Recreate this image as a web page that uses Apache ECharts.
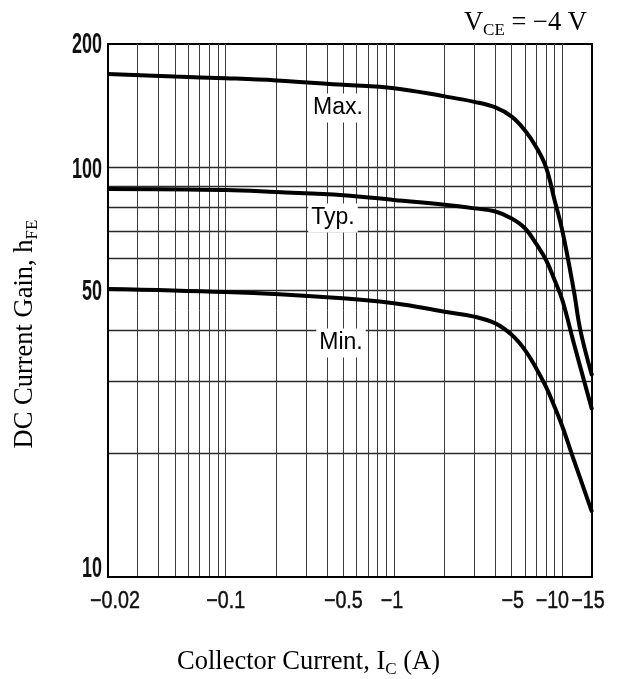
<!DOCTYPE html>
<html><head><meta charset="utf-8">
<script src="https://cdn.jsdelivr.net/npm/echarts@6/dist/echarts.min.js"></script>
<style>html,body{margin:0;padding:0;background:#fff}#c{width:619px;height:679px}</style>
</head><body><div id="c"></div>
<script>
// Collector current |Ic| (A) and DC current gain hFE for each curve
const currentMax = [0.02, 0.05, 0.1, 0.2, 0.5, 1, 2, 3, 4, 5, 6, 7, 8, 9, 10, 11.7, 12.8, 15];
const hfeMax     = [169, 166.5, 165, 163, 159, 156, 149, 144.5, 140, 133, 123, 112, 100, 83, 70, 50, 40, 31];
const currentTyp = [0.02, 0.1, 0.2, 0.5, 1, 2, 3, 4, 5, 6, 7, 8, 9, 10, 11.7, 15];
const hfeTyp     = [88.5, 88, 87, 85.5, 83.2, 81, 79.4, 78, 75, 71, 65, 59.4, 53, 47.4, 37.2, 25.6];
const currentMin = [0.02, 0.1, 0.4, 1, 2, 3, 4, 5, 6, 7, 8, 9, 10, 11.7, 15];
const hfeMin     = [50.5, 49.6, 48.2, 46.6, 44.4, 43.2, 41.6, 39, 35.8, 32.3, 29.1, 26, 23.3, 19.3, 14.4];

const xTickLabels = [0.02, 0.1, 0.5, 1, 5, 10, 15];
const yTickLabels = [10, 50, 100, 200];
const xGridLines = [0.03, 0.04, 0.05, 0.06, 0.07, 0.08, 0.09, 0.1, 0.2, 0.3, 0.4, 0.5, 0.6, 0.7, 0.8, 0.9, 1, 2, 3, 4, 5, 6, 7, 8, 9, 10];
const yGridLines = [20, 30, 40, 50, 60, 70, 80, 90, 100];
const xRange = [0.02, 15];
const yRange = [10, 200];

// label styling nudges (pixels), kept apart from the data
const style = {
  xLabelNudge: [7, 0, 0, -2, 1, -10, -4],
  yLabelNudge: [-8, 1, 2, 1]
};

const L = Math.log10;
const toPts = (xs, ys) => xs.map((x, i) => [L(x), L(ys[i])]);
const serif = "'Liberation Serif','Times New Roman',serif";
const sans = "'Liberation Sans',Arial,sans-serif";

const curve = (name, xs, ys) => ({
  name, type: 'line', data: toPts(xs, ys), showSymbol: false, smooth: 0.4,
  lineStyle: { color: '#000', width: 4 }, silent: true, z: 5
});

const chart = echarts.init(document.getElementById('c'), null, { renderer: 'canvas' });
chart.setOption({
  animation: false,
  backgroundColor: '#fff',
  grid: { left: 108, right: 27, top: 44, bottom: 102, show: true, borderColor: '#000', borderWidth: 2 },
  xAxis: {
    type: 'value', min: L(xRange[0]), max: L(xRange[1]),
    axisLine: { show: true, onZero: false, lineStyle: { color: '#000', width: 2 } },
    axisTick: { show: false, customValues: xGridLines.map(L) },
    splitLine: { show: true, lineStyle: { color: '#3a3a3a', width: 1 } },
    axisLabel: { show: false }
  },
  yAxis: {
    type: 'value', min: L(yRange[0]), max: L(yRange[1]),
    axisLine: { show: true, onZero: false, lineStyle: { color: '#000', width: 2 } },
    axisTick: { show: false, customValues: yGridLines.map(L) },
    splitLine: { show: true, lineStyle: { color: '#2a2a2a', width: 1.3 } },
    axisLabel: { show: false }
  },
  series: [
    curve('Max.', currentMax, hfeMax),
    curve('Typ.', currentTyp, hfeTyp),
    curve('Min.', currentMin, hfeMin)
  ]
});

// tick labels placed through the chart's own scales
const toPx = (xv, yv) => chart.convertToPixel({ gridIndex: 0 }, [L(xv), L(yv)]);
const graphics = [];
xTickLabels.forEach((v, i) => {
  const p = toPx(v, yRange[0]);
  graphics.push({ type: 'text', x: p[0] + style.xLabelNudge[i], y: p[1] + 24.5, scaleX: 0.82, z: 10,
    style: { text: '\u2212' + v, font: '24px ' + sans, fill: '#111', stroke: '#111', lineWidth: 0.5, align: 'center', verticalAlign: 'middle' } });
});
yTickLabels.forEach((v, i) => {
  const p = toPx(xRange[0], v);
  graphics.push({ type: 'text', x: p[0] - 6, y: p[1] + style.yLabelNudge[i], scaleX: 0.6, z: 10,
    style: { text: String(v), font: 'bold 30px ' + sans, fill: '#111', align: 'right', verticalAlign: 'middle' } });
});

const subRich = { s: { fontFamily: serif, fontSize: 17, fill: '#000', padding: [16, 0, 0, 0] } };
graphics.push(
  { type: 'text', x: 338, y: 108, z: 10, style: { text: 'Max.', font: '23px ' + sans, fill: '#000', align: 'center', verticalAlign: 'middle', backgroundColor: '#fff', padding: [3, 3, 3, 3] } },
  { type: 'text', x: 333, y: 218, z: 10, style: { text: 'Typ.', font: '23px ' + sans, fill: '#000', align: 'center', verticalAlign: 'middle', backgroundColor: '#fff', padding: [3, 3, 3, 3] } },
  { type: 'text', x: 341, y: 343, z: 10, style: { text: 'Min.', font: '23px ' + sans, fill: '#000', align: 'center', verticalAlign: 'middle', backgroundColor: '#fff', padding: [3, 3, 3, 3] } },
  { type: 'text', x: 587, y: 23, z: 10, style: {
      text: 'V{s|CE} = \u22124 V', fontFamily: serif, fontSize: 26.5, fill: '#000', align: 'right', verticalAlign: 'middle', rich: subRich } },
  { type: 'text', x: 308.5, y: 662, z: 10, style: {
      text: 'Collector Current, I{s|C} (A)', fontFamily: serif, fontSize: 26.5, fill: '#000', align: 'center', verticalAlign: 'middle', rich: subRich } },
  { type: 'text', x: 25, y: 334, rotation: Math.PI / 2, z: 10, style: {
      text: 'DC Current Gain, h{s|FE}', fontFamily: serif, fontSize: 26.5, fill: '#000', align: 'center', verticalAlign: 'middle', rich: subRich } }
);
chart.setOption({ graphic: graphics });
</script></body></html>
